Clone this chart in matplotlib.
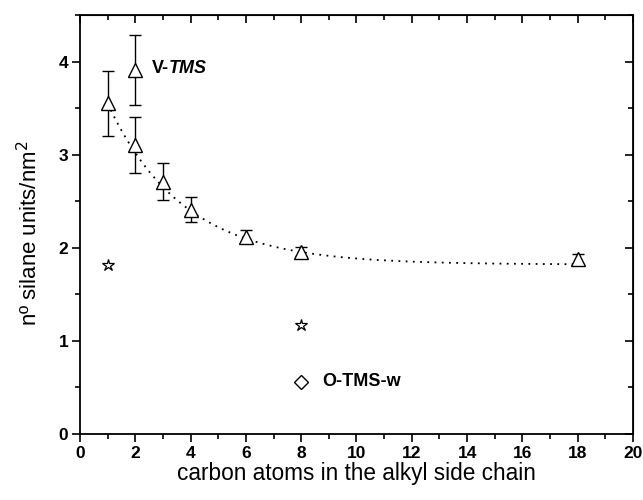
import numpy as np
import matplotlib
matplotlib.use("Agg")
import matplotlib.pyplot as plt
from matplotlib.ticker import MultipleLocator

plt.rcParams['font.family'] = ['Liberation Sans', 'DejaVu Sans']

# V-TMS series (triangles with error bars)
carbons = [1, 2, 2, 3, 4, 6, 8, 18]
silane = [3.55, 3.91, 3.10, 2.71, 2.41, 2.12, 1.96, 1.88]
silane_err = [0.35, 0.38, 0.30, 0.20, 0.13, 0.07, 0.05, 0.05]

# star points
star_x = [1, 8]
star_y = [1.81, 1.17]

# O-TMS-w point
otms_x = [8]
otms_y = [0.56]

# exponential decay fit
fit_y0, fit_a, fit_t = 1.82, 2.49, 2.74

fig = plt.figure(figsize=(6.43, 5.0), dpi=100)
ax = fig.add_axes([0.1244, 0.132, 0.86, 0.838])

xf = np.linspace(1, 18, 300)
ax.plot(xf, fit_y0 + fit_a * np.exp(-xf / fit_t), color='black', ls=(0, (1, 3)), lw=1.3)

ax.errorbar(carbons, silane, yerr=silane_err, fmt='^', mfc='white', mec='black',
            ms=10, mew=1, ecolor='black', elinewidth=1, capsize=4.5, capthick=1, zorder=3)
ax.plot(star_x, star_y, '*', mfc='white', mec='black', ms=9, mew=0.9, ls='none')
ax.plot(otms_x, otms_y, 'D', mfc='white', mec='black', ms=7, mew=1, ls='none')

t1 = ax.text(2.6, 3.93, 'V-', fontsize=13, fontweight='bold', va='center')
ax.annotate('TMS', xy=(1, 0.5), xycoords=t1, fontsize=13, fontweight='bold',
            style='italic', va='center', ha='left')
ax.text(8.75, 0.56, 'O-TMS-w', fontsize=13, fontweight='bold', va='center')

ax.set_xlim(0, 20)
ax.set_ylim(0, 4.5)
ax.xaxis.set_major_locator(MultipleLocator(2))
ax.xaxis.set_minor_locator(MultipleLocator(1))
ax.yaxis.set_major_locator(MultipleLocator(1))
ax.yaxis.set_minor_locator(MultipleLocator(0.5))
ax.tick_params(which='both', direction='out', top=False, right=False, width=1.2)
ax.tick_params(which='major', length=5.5, labelsize=12.5, pad=3)
ax.tick_params(which='minor', length=3.5)
for lab in ax.get_xticklabels() + ax.get_yticklabels():
    lab.set_fontweight('bold')

sec = ax.secondary_xaxis('top')
sec.xaxis.set_major_locator(MultipleLocator(2))
sec.xaxis.set_minor_locator(MultipleLocator(1))
sec.tick_params(which='both', direction='in', labeltop=False, width=1.2)
sec.tick_params(which='major', length=5.5)
sec.tick_params(which='minor', length=3.5)
secy = ax.secondary_yaxis('right')
secy.yaxis.set_major_locator(MultipleLocator(1))
secy.yaxis.set_minor_locator(MultipleLocator(0.5))
secy.tick_params(which='both', direction='in', labelright=False, width=1.2)
secy.tick_params(which='major', length=5.5)
secy.tick_params(which='minor', length=3.5)

for s in ax.spines.values():
    s.set_linewidth(1.3)

ax.set_xlabel('carbon atoms in the alkyl side chain', fontsize=16.3, labelpad=1)
ax.set_ylabel('nº silane units/nm$^2$', fontsize=16, labelpad=12)
ax.yaxis.set_label_coords(-0.068, 0.48)

fig.savefig('out.png', dpi=100)
